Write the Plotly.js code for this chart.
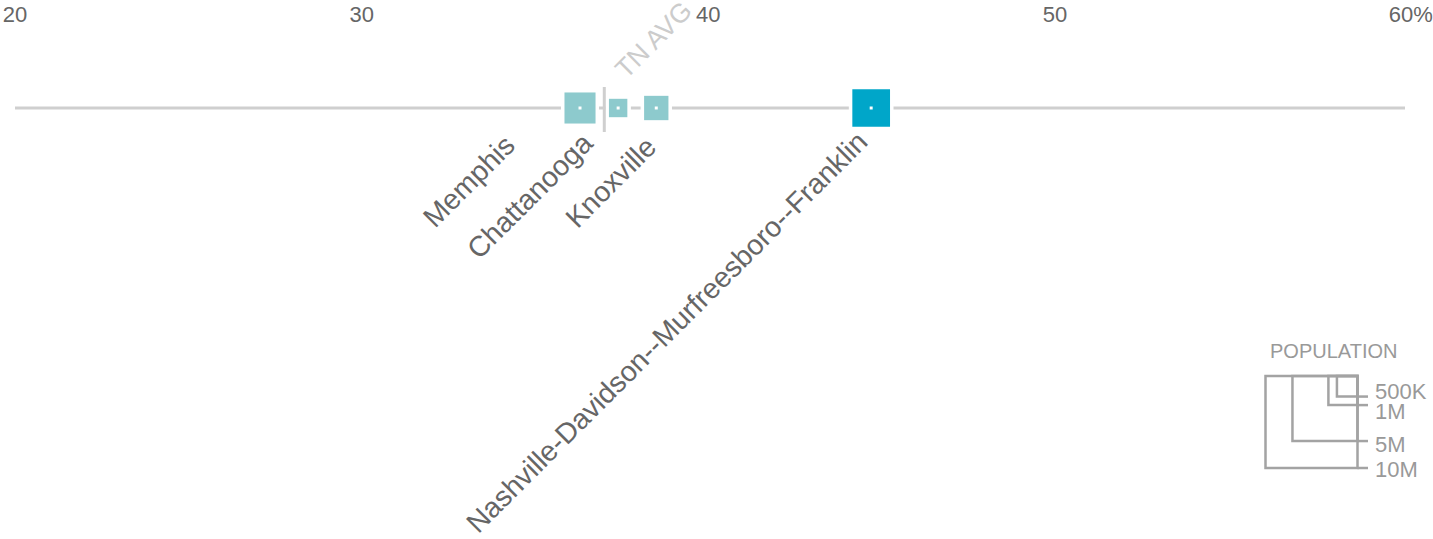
<!DOCTYPE html>
<html><head><meta charset="utf-8">
<script src="https://cdn.plot.ly/plotly-3.0.1.min.js"></script>
<style>html,body{margin:0;padding:0;background:#fff}#chart{width:1433px;height:539px}</style>
</head><body><div id="chart"></div>
<script>
// ---- data ----
const cities = ['Memphis', 'Chattanooga', 'Knoxville', 'Nashville-Davidson--Murfreesboro--Franklin'];
const shares = [36.3, 37.4, 38.5, 44.7];
const populations = [1140000, 400000, 700000, 1680000];
const highlighted = [false, false, false, true];
const stateAvg = 37.0;
const stateAvgLabel = 'TN AVG';
const tickVals = [20, 30, 40, 50, 60];
const tickText = ['20', '30', '40', '50', '60%'];
const legendPops = [500000, 1000000, 5000000, 10000000];
const legendLabels = ['500K', '1M', '5M', '10M'];
const legendTitle = 'POPULATION';

// ---- layout / style ----
const W = 1433, H = 539;
const M = {l: 15, r: 28, t: 27, b: 0};
const X_RANGE = [20, 60.1];
const plotW = W - M.l - M.r, plotH = H - M.t - M.b;
const pxPerUnit = plotW / (X_RANGE[1] - X_RANGE[0]);
const AXIS_Y_PX = 108;
const yTop = AXIS_Y_PX - M.t;
const Y_RANGE = [yTop - plotH, yTop];
const px2x = X => X_RANGE[0] + (X - M.l) / pxPerUnit;
const px2y = Y => AXIS_Y_PX - Y;
const SCALE = 92; // px side for 10M
const sideOf = p => SCALE * Math.sqrt(p / 1e7);
const FONT = '"Liberation Sans", Arial, sans-serif';
const LIGHT = '#8dcacd', DARK = '#00a6c9';
const LINE_GRAY = '#cfcfcf';
const labelXShift = [-56, -17, 9, 5];
const labelYShift = [-18, -16, -20, -14];

const zeros = shares.map(() => 0);
const sizes = populations.map(sideOf);

const traces = [
  {type: 'scatter', mode: 'markers', x: shares, y: zeros, hoverinfo: 'skip',
   marker: {symbol: 'square', size: sizes.map(s => s + 6), color: '#ffffff', opacity: 1}},
  {type: 'scatter', mode: 'markers', x: shares, y: zeros, text: cities, hoverinfo: 'text',
   marker: {symbol: 'square', size: sizes, color: highlighted.map(h => h ? DARK : LIGHT), opacity: 1, line: {width: 0}}},
  {type: 'scatter', mode: 'markers', x: shares, y: zeros, hoverinfo: 'skip',
   marker: {symbol: 'square', size: 3, color: '#ffffff', opacity: 1}}
];

const shapes = [
  {type: 'line', xref: 'x', yref: 'y', x0: X_RANGE[0], x1: X_RANGE[1], y0: 0, y1: 0,
   line: {color: LINE_GRAY, width: 3}, layer: 'below'},
  {type: 'line', xref: 'x', yref: 'y', x0: stateAvg, x1: stateAvg, y0: -24, y1: 21,
   line: {color: LINE_GRAY, width: 3}, layer: 'above'}
];

const annotations = cities.map((c, i) => ({
  x: shares[i], y: 0, xref: 'x', yref: 'y', text: c, showarrow: false,
  textangle: -45, xanchor: 'right', yanchor: 'top',
  xshift: labelXShift[i], yshift: labelYShift[i],
  font: {family: FONT, size: 28.5, color: '#666666'}
}));
annotations.push({
  x: stateAvg, y: 21, xref: 'x', yref: 'y', text: stateAvgLabel, showarrow: false,
  textangle: -45, xanchor: 'left', yanchor: 'bottom', xshift: 2, yshift: 0,
  font: {family: FONT, size: 26.5, color: '#cccccc'}
});

// legend
const LEG_RIGHT = 1357.5, LEG_TOP = 376, LEG_LEAD_END = 1368, LEG_LABEL_X = 1373;
const legLabelNudge = [-5, 6, 3, 1.5];
const LEG_COLOR = '#a3a3a3';
legendPops.forEach((p, i) => {
  const s = sideOf(p);
  shapes.push({type: 'rect', xref: 'x', yref: 'y',
    x0: px2x(LEG_RIGHT - s), x1: px2x(LEG_RIGHT), y0: px2y(LEG_TOP), y1: px2y(LEG_TOP + s),
    line: {color: LEG_COLOR, width: 2.5}, fillcolor: 'rgba(0,0,0,0)'});
  shapes.push({type: 'line', xref: 'x', yref: 'y',
    x0: px2x(LEG_RIGHT), x1: px2x(LEG_LEAD_END), y0: px2y(LEG_TOP + s), y1: px2y(LEG_TOP + s),
    line: {color: LEG_COLOR, width: 2.5}});
  annotations.push({x: px2x(LEG_LABEL_X), y: px2y(LEG_TOP + s + legLabelNudge[i]), xref: 'x', yref: 'y',
    text: legendLabels[i], showarrow: false, xanchor: 'left', yanchor: 'middle',
    font: {family: FONT, size: 22, color: '#999999'}});
});
annotations.push({x: px2x(1333), y: px2y(351), xref: 'x', yref: 'y', text: legendTitle,
  showarrow: false, xanchor: 'center', yanchor: 'middle',
  font: {family: FONT, size: 20, color: '#999999'}});

const layout = {
  width: W, height: H, margin: M, showlegend: false,
  paper_bgcolor: '#ffffff', plot_bgcolor: '#ffffff',
  xaxis: {range: X_RANGE, side: 'top', tickvals: tickVals,
    ticktext: tickText.map(t => t.endsWith('%') ? '\u00a0\u00a0\u00a0' + t : t),
    showgrid: false, zeroline: false, showline: false, ticks: '',
    tickfont: {family: FONT, size: 22, color: '#666666'}, fixedrange: true},
  yaxis: {range: Y_RANGE, visible: false, showgrid: false, zeroline: false, fixedrange: true},
  shapes: shapes, annotations: annotations
};
Plotly.newPlot('chart', traces, layout, {displayModeBar: false, staticPlot: true});
</script></body></html>
